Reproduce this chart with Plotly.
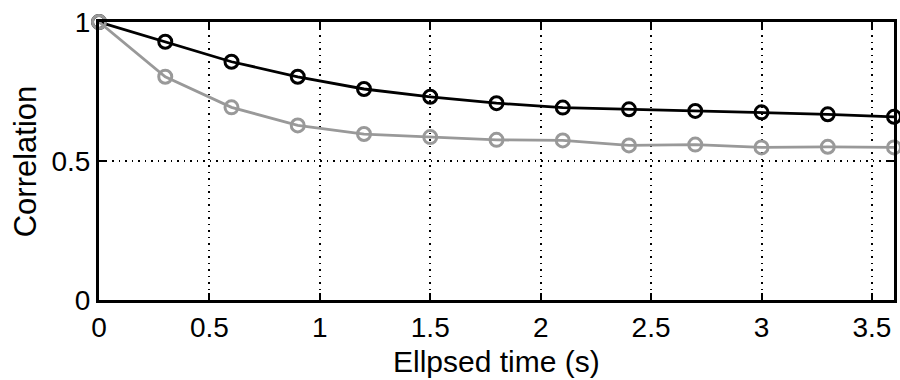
import plotly.graph_objects as go

# Elapsed time (s) and correlation values for the two conditions
elapsed_time = [0.0, 0.3, 0.6, 0.9, 1.2, 1.5, 1.8, 2.1, 2.4, 2.7, 3.0, 3.3, 3.6]
corr_black = [1.0, 0.929, 0.857, 0.803, 0.759, 0.731, 0.708, 0.692, 0.686, 0.680, 0.675, 0.668, 0.659]
corr_gray = [1.0, 0.803, 0.693, 0.628, 0.597, 0.586, 0.576, 0.574, 0.556, 0.559, 0.549, 0.551, 0.549]

x_ticks = [0, 0.5, 1, 1.5, 2, 2.5, 3, 3.5]
x_tick_text = ["0", "0.5", "1", "1.5", "2", "2.5", "3", "3.5"]
y_ticks = [0, 0.5, 1]
y_tick_text = ["0", "0.5", "1"]

FONT = "Liberation Sans, Arial, Helvetica, sans-serif"

# plot area in pixels
L, R, T, B = 99, 3, 22, 80
W, H = 900, 380
PW, PH = W - L - R, H - T - B

fig = go.Figure()
for values, color in [(corr_black, "#000000"), (corr_gray, "#999999")]:
    fig.add_trace(go.Scatter(
        x=elapsed_time, y=values, mode="lines+markers",
        line=dict(color=color, width=2.8),
        marker=dict(symbol="circle-open", size=13, color=color,
                    line=dict(color=color, width=3)),
        cliponaxis=False, showlegend=False,
    ))

axis_common = dict(
    showline=True, linewidth=3, linecolor="black", mirror="allticks",
    ticks="inside", ticklen=7, tickwidth=2, tickcolor="black",
    showgrid=True, gridcolor="black", griddash="1.5px,5px", gridwidth=1.5,
    zeroline=False, tickfont=dict(family=FONT, size=28, color="black"),
)

fig.update_layout(
    width=W, height=H,
    margin=dict(l=L, r=R, t=T, b=B),
    paper_bgcolor="white", plot_bgcolor="white",
    xaxis=dict(range=[0, 3.6], tickvals=x_ticks, ticktext=x_tick_text, **axis_common),
    yaxis=dict(range=[0, 1], tickvals=y_ticks, ticktext=y_tick_text, **axis_common),
    annotations=[
        dict(text="Correlation", textangle=-90, showarrow=False,
             xref="paper", yref="paper", x=(25 - L) / PW, y=0.5,
             xanchor="center", yanchor="middle",
             font=dict(family=FONT, size=31, color="black")),
        dict(text="Ellpsed time (s)", showarrow=False,
             xref="paper", yref="paper", x=0.5, y=(T + PH - 361) / PH,
             xanchor="center", yanchor="middle",
             font=dict(family=FONT, size=30, color="black")),
    ],
)

fig.write_html("out.html")
